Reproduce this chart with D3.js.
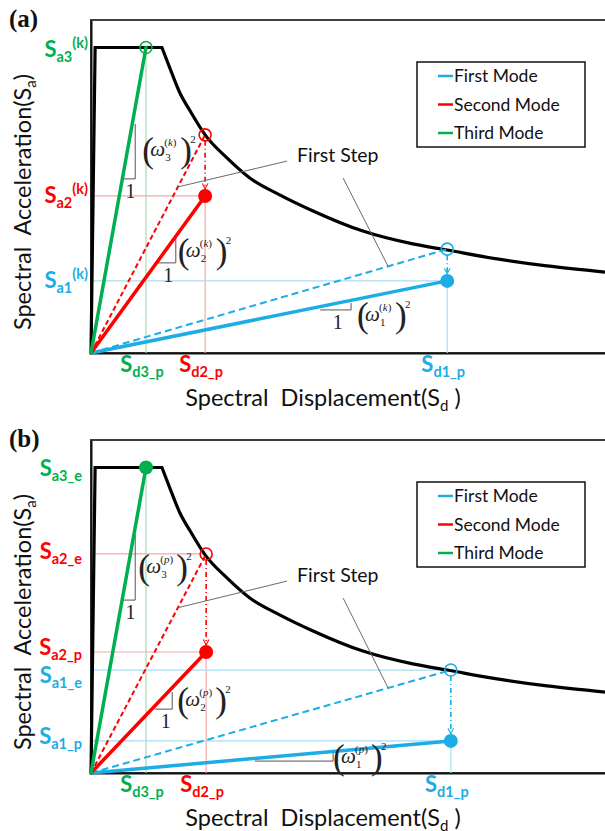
<!DOCTYPE html>
<html>
<head>
<meta charset="utf-8">
<script src="https://cdn.jsdelivr.net/npm/d3@7"></script>
<style>
body { margin: 0; background: #fff; }
</style>
</head>
<body>
<div id="chart"></div>
<script>
// design spectrum (same curve in both panels), Sd / Sa in arbitrary units
var specSd = [0, 0.08, 1.38, 1.54, 1.73, 1.93, 2.22, 2.65, 3.09, 3.68, 4.32, 5.29, 6.26, 6.93, 7.90, 8.87, 10.0];
var specSa = [0, 1.00, 1.00, 0.930, 0.851, 0.792, 0.714, 0.638, 0.573, 0.517, 0.465, 0.399, 0.357, 0.337, 0.308, 0.285, 0.265];

var modeNames = ["First Mode", "Second Mode", "Third Mode"];

// panel (a) : step k
var sdA = [6.93, 2.22, 1.07];
var saElasticA = [0.340, 0.714, 1.00];
var saPlasticA = [0.236, 0.514, 1.00];
var yLabelA = ["a1", "a2", "a3"];
var yLabelValA = [0.236, 0.514, 1.00];
var yLabelModeA = [0, 1, 2];
var xLabelA = ["d1_p", "d2_p", "d3_p"];
// slope triangles : [Sd left, Sd right, Sa base, Sa top] for each mode
var triA = [[4.46, 5.06, 0.141, 0.164], [1.28, 1.65, 0.295, 0.380], [0.60, 0.86, 0.570, 0.750]];

// panel (b) : step p
var sdB = [7.00, 2.24, 1.07];
var saElasticB = [0.337, 0.717, 1.00];
var saPlasticB = [0.105, 0.396, 1.00];
var yLabelB = ["a1_e", "a1_p", "a2_e", "a2_p", "a3_e"];
var yLabelValB = [0.337, 0.105, 0.717, 0.396, 1.00];
var yLabelModeB = [0, 0, 1, 1, 2];
var xLabelB = ["d1_p", "d2_p", "d3_p"];
var triB = [[3.19, 4.71, 0.039, 0.069], [1.25, 1.58, 0.209, 0.265], [0.60, 0.86, 0.566, 0.779]];

// "First Step" note and where its two leaders hit the dashed lines (mode 2, mode 1)
var stepSd = 4.01, stepSa = 0.625;
var stepLeaderSd = [1.69, 5.78];
var stepLeaderMode = [1, 0];

// couleurs
var col = ["#1cade4", "#ff0000", "#00b050"];
var colLight = ["#a9dcf2", "#f6a9a9", "#a6d8b4"];
var sans = "Lato, 'Open Sans', sans-serif";
var serif = "'Liberation Serif', 'Times New Roman', serif";

var W = 605, H = 831;
var svg = d3.select("#chart").append("svg").attr("width", W).attr("height", H);

var x = d3.scaleLinear().domain([0, 10]).range([91, 605]);
var y = d3.scaleLinear().domain([0, 1.09]).range([333, 0]);

// fleches
var defs = svg.append("defs");
col.concat(colLight).forEach(function (c, i) {
    defs.append("marker")
        .attr("id", "arr" + i)
        .attr("viewBox", "0 0 10 10")
        .attr("refX", 9).attr("refY", 5)
        .attr("markerWidth", 7).attr("markerHeight", 7)
        .attr("markerUnits", "userSpaceOnUse")
        .attr("orient", "auto")
        .append("path")
        .attr("d", "M1,1 L9,5 L1,9")
        .attr("fill", "none")
        .attr("stroke", c)
        .attr("stroke-width", 1.5);
});

var specPts = specSd.map(function (d, i) { return [d, specSa[i]]; });
var lineLin = d3.line().x(function (d) { return x(d[0]); }).y(function (d) { return y(d[1]); });
var lineMono = d3.line().x(function (d) { return x(d[0]); }).y(function (d) { return y(d[1]); }).curve(d3.curveMonotoneX);

// (omega_n^(sup))^2 en un seul texte
function omega(g, x0, cy, n, sup) {
    var t = g.append("text").attr("font-family", serif).attr("fill", "#222");
    t.append("tspan").attr("x", x0).attr("y", cy + 11).attr("font-size", 35).text("(");
    t.append("tspan").attr("x", x0 + 8).attr("y", cy + 5).attr("font-size", 21).attr("font-style", "italic").text("\u03c9");
    t.append("tspan").attr("x", x0 + 22).attr("y", cy - 5).attr("font-size", 11).text("(");
    t.append("tspan").attr("font-size", 11).attr("font-style", "italic").text(sup);
    t.append("tspan").attr("font-size", 11).text(")");
    t.append("tspan").attr("x", x0 + 23).attr("y", cy + 10).attr("font-size", 11).text(n);
    t.append("tspan").attr("x", x0 + 38).attr("y", cy + 11).attr("font-size", 35).text(")");
    t.append("tspan").attr("x", x0 + 48).attr("y", cy - 8).attr("font-size", 11).text("2");
}

function drawPanel(top, P) {
    var g = svg.append("g").attr("transform", "translate(0," + top + ")");

    // cadre
    g.append("rect")
        .attr("x", x(0)).attr("y", 0)
        .attr("width", 640).attr("height", y(0))
        .attr("fill", "none").attr("stroke", "#404040").attr("stroke-width", 2);

    // axes (sans graduations)
    var ax = g.append("g").attr("transform", "translate(0," + y(0) + ")")
        .call(d3.axisBottom(x).tickValues([]).tickSizeOuter(0));
    ax.select(".domain").attr("stroke", "#111").attr("stroke-width", 2);
    var ay = g.append("g").attr("transform", "translate(" + x(0) + ",0)")
        .call(d3.axisLeft(y).tickValues([]).tickSizeOuter(0));
    ay.select(".domain").attr("stroke", "#111").attr("stroke-width", 2);

    // lignes de rappel claires
    for (var m = 0; m < 3; m++) {
        g.append("line")
            .attr("x1", x(P.sd[m])).attr("x2", x(P.sd[m]))
            .attr("y1", y(P.saP[m])).attr("y2", y(0))
            .attr("stroke", colLight[m]).attr("stroke-width", 1.2);
    }
    P.yLab.forEach(function (t, i) {
        var m = P.yMode[i];
        if (m == 2) return;
        var ln = g.append("line")
            .attr("x1", x(P.sd[m])).attr("x2", x(0) + 2)
            .attr("y1", y(P.yVal[i])).attr("y2", y(P.yVal[i]))
            .attr("stroke", colLight[m]).attr("stroke-width", 1.2);
        if (P.arrowLeft && m == 0 && P.yVal[i] == P.saP[0]) ln.attr("marker-end", "url(#arr3)");
    });

    // spectre
    var d = lineLin(specPts.slice(0, 3)) + lineMono(specPts.slice(2)).replace(/^M/, "L");
    g.append("path").attr("d", d)
        .attr("fill", "none").attr("stroke", "#000").attr("stroke-width", 3.2)
        .attr("stroke-linejoin", "miter");

    // triangles de pente (gris)
    P.tri.forEach(function (t, m) {
        g.append("path")
            .attr("d", "M" + x(t[0]) + "," + y(t[2]) + "H" + x(t[1]) + "V" + y(t[3]))
            .attr("fill", "none").attr("stroke", "#555").attr("stroke-width", 1);
    });

    // droites elastiques (tirets)
    for (var m = 0; m < 2; m++) {
        g.append("line")
            .attr("x1", x(0)).attr("y1", y(0))
            .attr("x2", x(P.sd[m])).attr("y2", y(P.saE[m]))
            .attr("stroke", col[m]).attr("stroke-width", 2)
            .attr("stroke-dasharray", m == 0 ? "7,4" : "5,3");
        // fleche vers le point reel
        g.append("line")
            .attr("x1", x(P.sd[m])).attr("x2", x(P.sd[m]))
            .attr("y1", y(P.saE[m]) + 6).attr("y2", y(P.saP[m]) - 7)
            .attr("stroke", col[m]).attr("stroke-width", 1.6)
            .attr("stroke-dasharray", "5,3,1,3")
            .attr("marker-end", "url(#arr" + m + ")");
    }

    // droites des modes
    for (var m = 0; m < 3; m++) {
        g.append("line")
            .attr("x1", x(0)).attr("y1", y(0))
            .attr("x2", x(P.sd[m])).attr("y2", y(P.saP[m]))
            .attr("stroke", col[m]).attr("stroke-width", 3.5)
            .attr("stroke-linecap", "round");
    }

    // cercles et points
    for (var m = 0; m < 3; m++) {
        var openOnly = (m == 2 && !P.thirdFilled);
        if (m < 2 || openOnly) {
            g.append("circle")
                .attr("cx", x(P.sd[m])).attr("cy", y(P.saE[m])).attr("r", 6)
                .attr("fill", "none").attr("stroke", col[m]).attr("stroke-width", 1.6);
        }
        if (!openOnly) {
            g.append("circle")
                .attr("cx", x(P.sd[m])).attr("cy", y(P.saP[m])).attr("r", 7)
                .attr("fill", col[m]);
        }
    }

    // etiquettes des triangles
    P.tri.forEach(function (t, m) {
        var xr = x(t[1]), yb = y(t[2]), yt = y(t[3]);
        if (!(P.hideOne && m == 0)) {
            g.append("text")
                .attr("x", (x(t[0]) + xr) / 2 + 2).attr("y", yb + 19)
                .attr("text-anchor", "middle")
                .attr("font-family", serif).attr("font-size", 20).attr("fill", "#222")
                .text("1");
        }
        omega(g, xr + P.omGap[m], (yb + yt) / 2 + P.omDy[m], String(m + 1), P.omSup);
    });

    // First Step
    var sx = x(stepSd), sy = y(stepSa);
    g.append("text").attr("x", sx).attr("y", sy)
        .attr("font-family", sans).attr("font-size", 19.5).attr("fill", "#111")
        .text("First Step");
    var starts = [[sx - 10, sy - 1], [sx + 46, sy + 16]];
    stepLeaderSd.forEach(function (s, i) {
        var m = stepLeaderMode[i];
        g.append("line")
            .attr("x1", starts[i][0]).attr("y1", starts[i][1])
            .attr("x2", x(s)).attr("y2", y(s * P.saE[m] / P.sd[m]))
            .attr("stroke", "#6a6a6a").attr("stroke-width", 1);
    });

    // etiquettes Sa
    P.yLab.forEach(function (t, i) {
        var m = P.yMode[i];
        var tx = g.append("text")
            .attr("x", P.yLabX).attr("y", y(P.yVal[i]) + 7 + P.yLabDy[i])
            .attr("text-anchor", "end")
            .attr("font-family", sans).attr("font-weight", 700)
            .attr("font-size", 22).attr("fill", col[m]);
        tx.append("tspan").text("S");
        tx.append("tspan").attr("font-size", 14.5).attr("dy", 5).text(t);
        if (P.ySup) tx.append("tspan").attr("font-size", 14.5).attr("dy", -14).text("(" + P.ySup + ")");
    });

    // etiquettes Sd
    P.xLab.forEach(function (t, m) {
        var tx = g.append("text")
            .attr("x", x(P.sd[m]) - 4).attr("y", y(0) + 19)
            .attr("text-anchor", "middle")
            .attr("font-family", sans).attr("font-weight", 700)
            .attr("font-size", 22).attr("fill", col[m]);
        tx.append("tspan").text("S");
        tx.append("tspan").attr("font-size", 14.5).attr("dy", 5).text(t);
    });

    // titres des axes
    var xt = g.append("text")
        .attr("x", 323).attr("y", y(0) + 53)
        .attr("text-anchor", "middle").style("white-space", "pre")
        .attr("font-family", sans).attr("font-size", 23.5).attr("fill", "#111");
    xt.append("tspan").text("Spectral  Displacement(S");
    xt.append("tspan").attr("font-size", 15).attr("dy", 5).text("d");
    xt.append("tspan").attr("dy", -5).text(" )");

    var yt = g.append("text")
        .attr("transform", "translate(31," + 182 + ") rotate(-90)")
        .attr("text-anchor", "middle").style("white-space", "pre")
        .attr("font-family", sans).attr("font-size", 23.5).attr("fill", "#111");
    yt.append("tspan").text("Spectral  Acceleration(S");
    yt.append("tspan").attr("font-size", 15).attr("dy", 5).text("a");
    yt.append("tspan").attr("dy", -5).text(")");

    // lettre du panneau
    svg.append("text")
        .attr("x", 9).attr("y", top + 7)
        .attr("font-family", serif).attr("font-weight", 700)
        .attr("font-size", 25).attr("fill", "#111")
        .text(P.letter);

    // legende
    var lg = g.append("g").attr("transform", "translate(417,42)");
    lg.append("rect").attr("width", 168).attr("height", 85)
        .attr("fill", "#fff").attr("stroke", "#111").attr("stroke-width", 1.5);
    modeNames.forEach(function (nm, i) {
        var ly = 14 + i * 28.5;
        lg.append("line").attr("x1", 21).attr("x2", 36).attr("y1", ly).attr("y2", ly)
            .attr("stroke", col[i]).attr("stroke-width", 2.5);
        lg.append("text").attr("x", 37).attr("y", ly + 6)
            .attr("font-family", sans).attr("font-size", 17.5).attr("fill", "#111")
            .text(nm);
    });
}

drawPanel(20, {
    letter: "(a)", sd: sdA, saE: saElasticA, saP: saPlasticA,
    yLab: yLabelA, yVal: yLabelValA, yMode: yLabelModeA, yLabX: 88, yLabDy: [0, 0, 3],
    xLab: xLabelA, tri: triA, ySup: "k", omSup: "k", thirdFilled: false, arrowLeft: false, hideOne: false,
    omGap: [6, 2, 7], omDy: [10, 2, 0]
});
drawPanel(440, {
    letter: "(b)", sd: sdB, saE: saElasticB, saP: saPlasticB,
    yLab: yLabelB, yVal: yLabelValB, yMode: yLabelModeB, yLabX: 82, yLabDy: [6, -4, -2, -4, 2],
    xLab: xLabelB, tri: triB, ySup: "", omSup: "p", thirdFilled: true, arrowLeft: true, hideOne: true,
    omGap: [0, 5, 3], omDy: [1, 0, 0]
});
</script>
</body>
</html>
